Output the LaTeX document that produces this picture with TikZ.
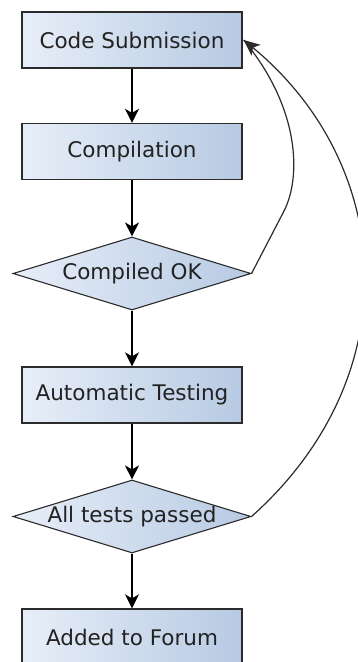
\documentclass[tikz,border=0pt]{standalone}
\usepackage{fontspec}
\setmainfont{DejaVu Sans}
\usetikzlibrary{shapes.geometric,arrows.meta}
\definecolor{fillL}{HTML}{E7EEF8}
\definecolor{fillR}{HTML}{B7CAE3}
\definecolor{edge}{HTML}{2B2B2B}
\definecolor{txt}{HTML}{222222}
\tikzset{
  stepbox/.style={rectangle, draw=edge, line width=1.3pt, left color=fillL, right color=fillR,
    minimum width=220pt, minimum height=56pt, inner sep=0pt, text=txt,
    font=\fontsize{21.5}{24}\selectfont},
  decision/.style={diamond, draw=edge, line width=1.1pt, left color=fillL, right color=fillR,
    minimum width=238pt, minimum height=73pt, inner sep=0pt, text=txt,
    font=\fontsize{21.5}{24}\selectfont},
  flow/.style={-{Stealth[length=14pt,width=14pt,inset=4pt]}, line width=1.5pt, black},
  back/.style={line width=1.2pt, edge}
}
\begin{document}
\begin{tikzpicture}[x=1pt,y=-1pt]
\useasboundingbox (0,0) rectangle (357,662);
\node[stepbox] (cs) at (132,40) {Code Submission};
\node[stepbox] (comp) at (132,151.5) {Compilation};
\node[decision] (ok) at (132,273.5) {\makebox[0pt]{Compiled OK}};
\node[stepbox] (at) at (132,395) {\makebox[0pt]{Automatic Testing}};
\node[decision] (tp) at (132,516.5) {\makebox[0pt]{All tests passed}};
\node[stepbox] (af) at (132,637) {Added to Forum};
\draw[flow] (cs) -- (comp);
\draw[flow] (comp) -- (ok);
\draw[flow] (ok) -- (at);
\draw[flow] (at) -- (tp);
\draw[flow] (tp) -- (af);
\coordinate (bend) at (283,213);
\draw[back] (ok.east) -- (bend) .. controls (302,178) and (300,108) .. ([xshift=1pt]cs.east);
\draw[back, -{Stealth[length=16pt,width=14pt,inset=4pt]}] (tp.east) .. controls (410,375) and (395,165) .. ([xshift=1pt]cs.east);
\end{tikzpicture}
\end{document}
